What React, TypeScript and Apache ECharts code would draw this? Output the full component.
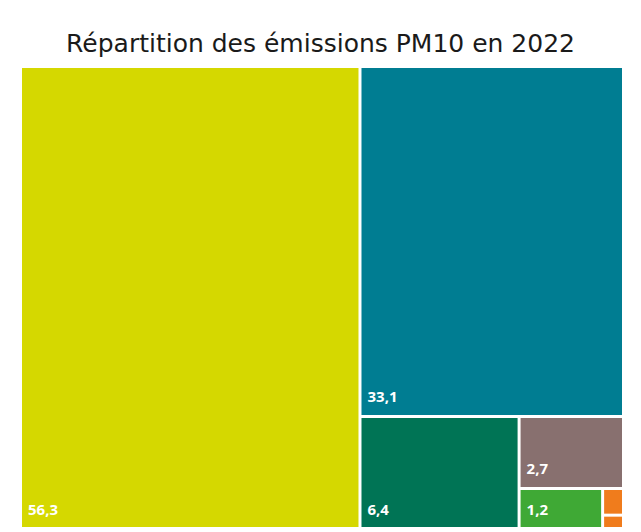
import React, { useEffect, useRef } from "react";
import * as echarts from "echarts";

const categories = ["Résidentiel-tertiaire", "Agriculture", "Industrie", "Transports", "Énergie", "Déchets", "Autres"];
const values = [56.3, 33.1, 6.4, 2.7, 1.2, 0.2, 0.1];
const colors = ["#d5d800", "#007d92", "#007455", "#88706f", "#3fa935", "#f07c1c", "#f07c1c"];
const labels = ["56,3", "33,1", "6,4", "2,7", "1,2", "", ""];
const title = "Répartition des émissions PM10 en 2022";

export default function App() {
  const ref = useRef<HTMLDivElement>(null);
  useEffect(() => {
    if (!ref.current) return;
    const chart = echarts.init(ref.current, null, { renderer: "svg" });
    const data = categories.map((name, i) => ({
      name,
      value: values[i],
      itemStyle: { color: colors[i] },
      label: { formatter: labels[i] },
    }));
    chart.setOption({
      animation: false,
      backgroundColor: "#ffffff",
      title: {
        text: title,
        left: "center",
        top: 26,
        textStyle: {
          fontFamily: "DejaVu Sans",
          fontSize: 25,
          fontWeight: "normal",
          color: "#1a1a1a",
        },
      },
      tooltip: { show: false },
      series: [
        {
          type: "treemap",
          left: 22,
          top: 68,
          width: 600,
          height: 459,
          roam: false,
          nodeClick: false,
          squareRatio: 1,
          breadcrumb: { show: false },
          sort: "desc",
          levels: [
            {
              itemStyle: { gapWidth: 3, borderWidth: 0, borderColor: "#ffffff" },
            },
          ],
          label: {
            show: true,
            position: "insideBottomLeft",
            distance: 1,
            offset: [0, -5],
            color: "#ffffff",
            fontFamily: "Open Sans",
            fontWeight: "bold",
            fontSize: 15,
          },
          data,
        },
      ],
    });
    return () => chart.dispose();
  }, []);
  return (
    <div
      ref={ref}
      style={{ position: "absolute", left: 0, top: 0, width: 641, height: 532 }}
    />
  );
}
